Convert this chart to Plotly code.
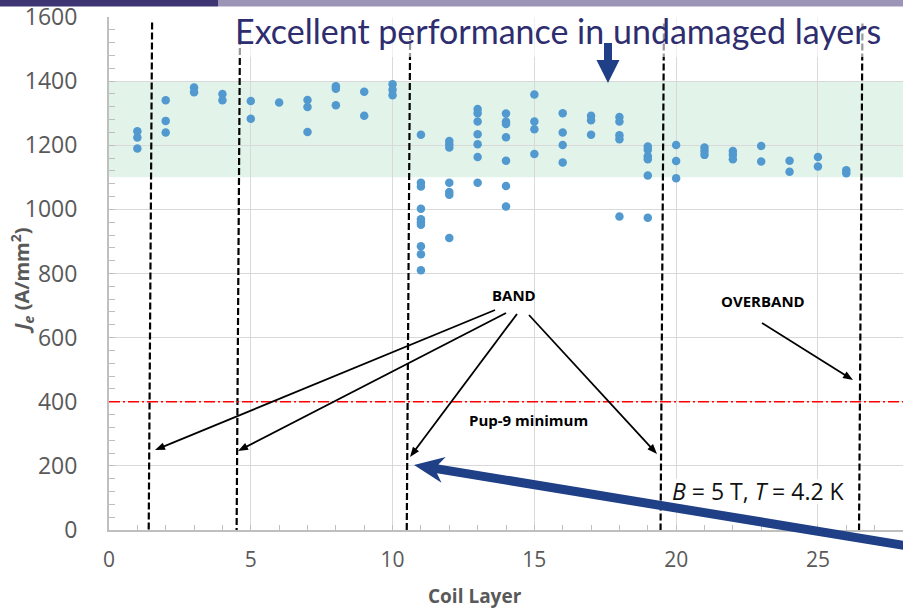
import math
import plotly.graph_objects as go

# ---------------- data ----------------
layer_1 = [1244, 1224, 1190]
layer_2 = [1340, 1276, 1240]
layer_3 = [1380, 1365]
layer_4 = [1360, 1340]
layer_5 = [1338, 1283]
layer_6 = [1333]
layer_7 = [1341, 1319, 1241]
layer_8 = [1384, 1376, 1325]
layer_9 = [1367, 1292]
layer_10 = [1390, 1373, 1356]
layer_11 = [1233, 1083, 1071, 1002, 969, 960, 952, 885, 860, 810]
layer_12 = [1213, 1203, 1193, 1083, 1054, 1046, 911]
layer_13 = [1313, 1300, 1274, 1234, 1203, 1163, 1083]
layer_14 = [1299, 1274, 1266, 1225, 1152, 1073, 1009]
layer_15 = [1358, 1274, 1250, 1173]
layer_16 = [1300, 1240, 1201, 1146]
layer_17 = [1292, 1278, 1233]
layer_18 = [1288, 1274, 1231, 1219, 978]
layer_19 = [1196, 1186, 1166, 1156, 1106, 974]
layer_20 = [1201, 1151, 1097]
layer_21 = [1193, 1182, 1170]
layer_22 = [1182, 1170, 1156]
layer_23 = [1198, 1149]
layer_24 = [1152, 1117]
layer_25 = [1163, 1134]
layer_26 = [1122, 1113]

layer_values = [layer_1, layer_2, layer_3, layer_4, layer_5, layer_6, layer_7,
                layer_8, layer_9, layer_10, layer_11, layer_12, layer_13,
                layer_14, layer_15, layer_16, layer_17, layer_18, layer_19,
                layer_20, layer_21, layer_22, layer_23, layer_24, layer_25,
                layer_26]

band_boundaries = [1.45, 4.55, 10.55, 19.5, 26.5]   # dashed band limits (coil layer)
band_tops = [1583, 1566, 1550, 1580, 1580]
good_band = [1100, 1400]                             # shaded region
pup9_minimum = 400
x_ticks = [0, 5, 10, 15, 20, 25]
y_ticks = [0, 200, 400, 600, 800, 1000, 1200, 1400, 1600]

xs, ys = [], []
for i, vals in enumerate(layer_values, start=1):
    for v in vals:
        xs.append(i)
        ys.append(v)

# ---------------- geometry helpers ----------------
W, H = 903, 608
ML, MR, MT, MB = 109, 0, 17, 78
PW, PH = W - ML - MR, H - MT - MB
XMAX, YMAX = 28, 1600


def xp(px):
    return (px - ML) / PW


def yp(py):
    return (H - MB - py) / PH


NAVY = "#1F3F86"

fig = go.Figure()
fig.add_trace(go.Scatter(
    x=xs, y=ys, mode="markers",
    marker=dict(size=8.5, color="#5199CF"),
    showlegend=False, hoverinfo="x+y"))

shapes = []
shapes.append(dict(type="rect", xref="x", yref="y", x0=0, x1=XMAX,
                   y0=good_band[0], y1=good_band[1],
                   fillcolor="#E2F4EA", line=dict(width=0), layer="below"))
for bx, top in zip(band_boundaries, band_tops):
    shapes.append(dict(type="line", xref="x", yref="y",
                       x0=bx + 0.07, x1=bx - 0.05, y0=top, y1=0,
                       line=dict(color="black", width=2.2, dash="7px,3px"),
                       layer="above"))
shapes.append(dict(type="line", xref="x", yref="y", x0=0, x1=XMAX,
                   y0=pup9_minimum, y1=pup9_minimum,
                   line=dict(color="#FF0000", width=1.5,
                             dash="11px,3px,2px,3px"), layer="above"))

# semi-transparent white title box
shapes.append(dict(type="rect", xref="paper", yref="paper",
                   x0=xp(218), x1=xp(903), y0=yp(57), y1=yp(17),
                   fillcolor="rgba(255,255,255,0.6)", line=dict(width=0),
                   layer="above"))
# white box behind the conditions text
shapes.append(dict(type="rect", xref="paper", yref="paper",
                   x0=xp(666), x1=xp(852), y0=yp(504), y1=yp(479),
                   fillcolor="white", line=dict(width=0), layer="above"))
# header bars
shapes.append(dict(type="rect", xref="paper", yref="paper",
                   x0=xp(0), x1=xp(218), y0=yp(6.5), y1=yp(0),
                   fillcolor="#3E3573", line=dict(width=0), layer="above"))
shapes.append(dict(type="rect", xref="paper", yref="paper",
                   x0=xp(218), x1=xp(903), y0=yp(6.5), y1=yp(0),
                   fillcolor="#9C95B8", line=dict(width=0), layer="above"))


def poly_path(points):
    s = "M " + " L ".join(f"{xp(a):.5f},{yp(b):.5f}" for a, b in points)
    return s + " Z"


# small navy down arrow
cx = 608
down = [(cx - 4, 43), (cx + 4, 43), (cx + 4, 60), (cx + 11.5, 60), (cx, 83),
        (cx - 11.5, 60), (cx - 4, 60)]
shapes.append(dict(type="path", xref="paper", yref="paper",
                   path=poly_path(down), fillcolor=NAVY, line=dict(width=0),
                   layer="above"))

# big navy arrow
tip = (414, 465)
tail = (920, 548)
dx, dy = tail[0] - tip[0], tail[1] - tip[1]
L = math.hypot(dx, dy)
ux, uy = dx / L, dy / L
nx, ny = -uy, ux
hl, hw, sw = 30, 13, 4.5
bx_, by_ = tip[0] + ux * hl, tip[1] + uy * hl
nb_x, nb_y = tip[0] + ux * (hl - 6), tip[1] + uy * (hl - 6)
big = [tip,
       (bx_ + nx * hw, by_ + ny * hw),
       (nb_x + nx * sw, nb_y + ny * sw),
       (tail[0] + nx * sw, tail[1] + ny * sw),
       (tail[0] - nx * sw, tail[1] - ny * sw),
       (nb_x - nx * sw, nb_y - ny * sw),
       (bx_ - nx * hw, by_ - ny * hw)]
shapes.append(dict(type="path", xref="paper", yref="paper",
                   path=poly_path(big), fillcolor=NAVY, line=dict(width=0),
                   layer="above"))


# thin black annotation arrows (line + filled head)
def black_arrow(tail_px, tip_px):
    tx, ty = tip_px
    dx, dy = tail_px[0] - tx, tail_px[1] - ty
    L = math.hypot(dx, dy)
    ux, uy = dx / L, dy / L
    nx, ny = -uy, ux
    hl, hw = 10, 3.8
    bx, by = tx + ux * hl, ty + uy * hl
    shapes.append(dict(type="line", xref="paper", yref="paper",
                       x0=xp(tail_px[0]), y0=yp(tail_px[1]),
                       x1=xp(bx - ux * 1), y1=yp(by - uy * 1),
                       line=dict(color="black", width=1.8), layer="above"))
    head = [(tx, ty), (bx + nx * hw, by + ny * hw), (bx - nx * hw, by - ny * hw)]
    shapes.append(dict(type="path", xref="paper", yref="paper",
                       path=poly_path(head), fillcolor="black",
                       line=dict(width=0), layer="above"))


black_arrow((495, 310), (155, 450))
black_arrow((506, 313), (238, 451))
black_arrow((517, 314), (410, 457))
black_arrow((529, 315), (657, 454))
black_arrow((762, 323), (853, 380))

lbl_font = dict(family="Open Sans", size=15, color="black")


def ann(x, y, text, font, **kw):
    d = dict(x=xp(x), y=yp(y), xref="paper", yref="paper", text=text,
             showarrow=False, font=font, xanchor="center", yanchor="middle")
    d.update(kw)
    return d


annotations = [
    ann(514, 295, "<b>BAND</b>", lbl_font),
    ann(763, 301, "<b>OVERBAND</b>", lbl_font),
    ann(528, 420, "<b>Pup-9 minimum</b>", lbl_font),
    ann(758, 491, "<i>B</i> = 5 T, <i>T</i> = 4.2 K",
        dict(family="Open Sans", size=23, color="#111111")),
    ann(558, 30, "Excellent performance in undamaged layers",
        dict(family="Lato", size=34, color="#2E2D6F")),
    ann(22, 281, "<b><i>J</i><sub><i>e</i></sub> (A/mm<sup>2</sup>)</b>",
        dict(family="Open Sans", size=20, color="#595959"), textangle=-90),
    ann(475, 596, "<b>Coil Layer</b>",
        dict(family="Open Sans", size=19, color="#595959")),
]

fig.update_layout(
    width=W, height=H,
    margin=dict(l=ML, r=MR, t=MT, b=MB),
    paper_bgcolor="white", plot_bgcolor="white",
    font=dict(family="Open Sans", color="#595959"),
    shapes=shapes, annotations=annotations, showlegend=False,
    xaxis=dict(range=[0, XMAX], tickvals=x_ticks, showgrid=True,
               gridcolor="#D9D9D9", gridwidth=1, zeroline=False,
               showline=True, linecolor="#BFBFBF", linewidth=2,
               ticks="inside", ticklen=5, tickcolor="#BFBFBF",
               minor=dict(dtick=1, ticks="inside", ticklen=5,
                          tickcolor="#BFBFBF", showgrid=False),
               tickfont=dict(size=21, color="#595959"),
               ticklabelstandoff=10),
    yaxis=dict(range=[0, YMAX], tickvals=y_ticks, showgrid=True,
               gridcolor="#D9D9D9", gridwidth=1, zeroline=False,
               showline=True, linecolor="#BFBFBF", linewidth=2,
               ticks="inside", ticklen=6, tickcolor="#BFBFBF",
               minor=dict(dtick=40, ticks="inside", ticklen=6,
                          tickcolor="#BFBFBF", showgrid=False),
               tickfont=dict(size=23, color="#595959"),
               ticklabelstandoff=25),
)

fig.write_html("out.html",
               config={"displayModeBar": False},
               post_script="document.body.style.margin='0';"
                           "document.body.style.overflow='hidden';")
